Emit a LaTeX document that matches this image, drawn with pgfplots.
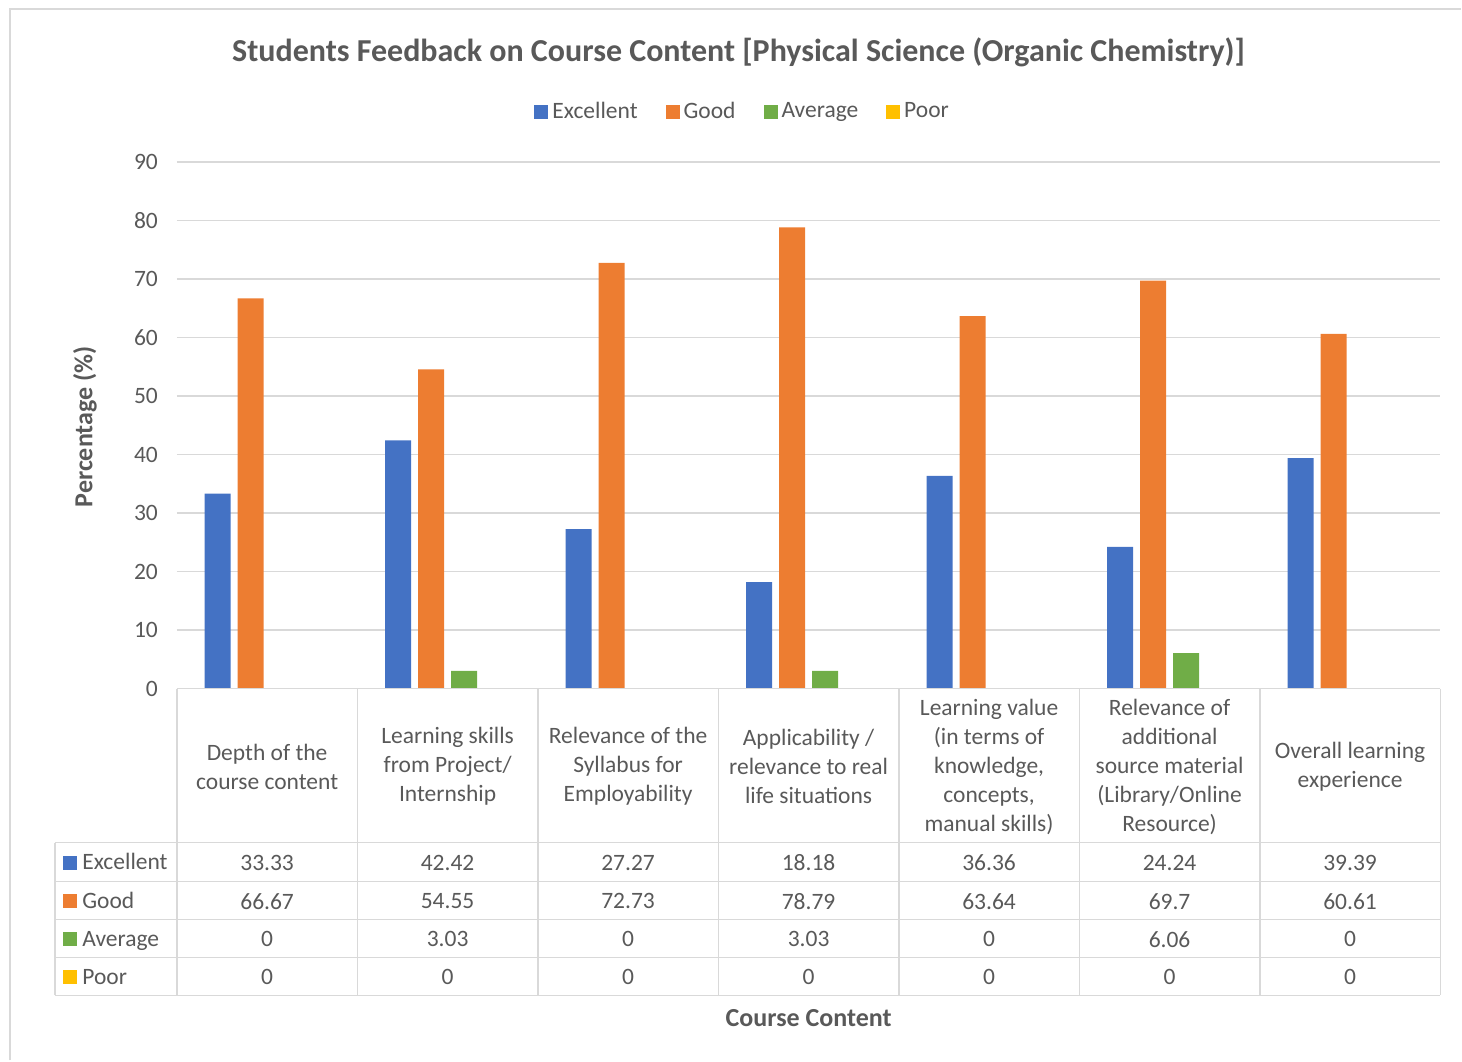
\documentclass[border=0pt]{standalone}
\usepackage{fontspec}
\setmainfont{Carlito}
\usepackage{pgfplots}
\usepackage{pgfplotstable}
\pgfplotsset{compat=1.18}
\definecolor{exc}{HTML}{4472C4}
\definecolor{good}{HTML}{ED7D31}
\definecolor{avg}{HTML}{70AD47}
\definecolor{poor}{HTML}{FFC000}
\definecolor{txt}{HTML}{595959}
\definecolor{gridc}{HTML}{D9D9D9}

% feedback percentages, one row per course-content item
\pgfplotstableread{
x exc good avg poor
0 33.33 66.67 0 0
1 42.42 54.55 3.03 0
2 27.27 72.73 0 0
3 18.18 78.79 3.03 0
4 36.36 63.64 0 0
5 24.24 69.7 6.06 0
6 39.39 60.61 0 0
}\feedback

\newcommand{\nfont}{\fontsize{11.75}{14.5}\selectfont}

\begin{document}
\begin{tikzpicture}
\begin{axis}[
  scale only axis,
  width=632pt, height=263.5pt,
  xmin=-0.5, xmax=6.5, ymin=0, ymax=90,
  ytick={0,10,...,90},
  xtick={0,...,6},
  xticklabels={
    {Depth of the\\course content},
    {Learning skills\\from Project/\\Internship},
    {Relevance of the\\Syllabus for\\Employability},
    {Applicability /\\relevance to real\\life situations},
    {Learning value\\(in terms of\\knowledge,\\concepts,\\manual skills)},
    {Relevance of\\additional\\source material\\(Library/Online\\Resource)},
    {Overall learning\\experience}},
  clip=false,
  axis line style={draw=none},
  major tick length=0pt,
  ymajorgrids,
  grid style={gridc, line width=0.75pt},
  tick label style={font=\nfont, text=txt},
  /pgf/number format/assume math mode=true,
  yticklabel style={xshift=-6pt},
  xticklabel style={align=center, anchor=center, yshift=-39pt},
  title={Students Feedback on Course Content [Physical Science (Organic Chemistry)]},
  title style={at={(0.4446,1.186)}, anchor=center,
    font=\bfseries\fontsize{16}{19}\selectfont, text=txt},
  ylabel={Percentage (\%)},
  ylabel style={at={(-0.0728,0.497)}, anchor=center,
    font=\bfseries\fontsize{13}{16}\selectfont, text=txt},
  xlabel={Course Content},
  xlabel style={at={(0.5,-0.626)}, anchor=center,
    font=\bfseries\fontsize{13}{16}\selectfont, text=txt},
  legend style={at={(0.4486,1.095)}, anchor=center, legend columns=4,
    draw=none, font=\nfont, text=txt,
    /tikz/every even column/.append style={column sep=12pt}},
  legend image code/.code={\fill[#1] (0pt,-3.5pt) rectangle (7pt,3.5pt);},
]
% bars
\addplot[ybar, bar width=13pt, bar shift=-24.75pt, fill=exc, draw=none]
  table[x=x, y=exc] {\feedback};
\addplot[ybar, bar width=13pt, bar shift=-8.25pt, fill=good, draw=none]
  table[x=x, y=good] {\feedback};
\addplot[ybar, bar width=13pt, bar shift=8.25pt, fill=avg, draw=none]
  table[x=x, y=avg] {\feedback};
\addplot[ybar, bar width=13pt, bar shift=24.75pt, fill=poor, draw=none]
  table[x=x, y=poor] {\feedback};
\legend{Excellent,Good,Average,Poor}

% data table values
\pgfplotsset{tabrow/.style={forget plot, draw=none, mark=none,
  nodes near coords, point meta=explicit symbolic,
  every node near coord/.append style={anchor=center, font=\nfont, text=txt}}}
\addplot[tabrow] table[x=x, y expr=-29.75, meta=exc] {\feedback};
\addplot[tabrow] table[x=x, y expr=-36.32, meta=good] {\feedback};
\addplot[tabrow] table[x=x, y expr=-42.81, meta=avg] {\feedback};
\addplot[tabrow] table[x=x, y expr=-49.30, meta=poor] {\feedback};

% table grid
\draw[gridc, line width=0.75pt]
  (axis cs:-0.5,0) -- (axis cs:6.5,0)
  (axis cs:-1.1757,-26.30) -- (axis cs:6.5,-26.30)
  (axis cs:-1.1757,-32.96) -- (axis cs:6.5,-32.96)
  (axis cs:-1.1757,-39.45) -- (axis cs:6.5,-39.45)
  (axis cs:-1.1757,-45.94) -- (axis cs:6.5,-45.94)
  (axis cs:-1.1757,-52.42) -- (axis cs:6.5,-52.42)
  (axis cs:-1.1757,-26.30) -- (axis cs:-1.1757,-52.42)
  (axis cs:-0.5,0) -- (axis cs:-0.5,-52.42)
  (axis cs:0.5,0) -- (axis cs:0.5,-52.42)
  (axis cs:1.5,0) -- (axis cs:1.5,-52.42)
  (axis cs:2.5,0) -- (axis cs:2.5,-52.42)
  (axis cs:3.5,0) -- (axis cs:3.5,-52.42)
  (axis cs:4.5,0) -- (axis cs:4.5,-52.42)
  (axis cs:5.5,0) -- (axis cs:5.5,-52.42)
  (axis cs:6.5,0) -- (axis cs:6.5,-52.42);

% row keys
\node[anchor=base west, inner sep=0, font=\nfont, text=txt] at (axis cs:-1.131,-30.95)
  {\textcolor{exc}{\rule{7pt}{7pt}}\hspace{2.5pt}Excellent};
\node[anchor=base west, inner sep=0, font=\nfont, text=txt] at (axis cs:-1.131,-37.52)
  {\textcolor{good}{\rule{7pt}{7pt}}\hspace{2.5pt}Good};
\node[anchor=base west, inner sep=0, font=\nfont, text=txt] at (axis cs:-1.131,-44.01)
  {\textcolor{avg}{\rule{7pt}{7pt}}\hspace{2.5pt}Average};
\node[anchor=base west, inner sep=0, font=\nfont, text=txt] at (axis cs:-1.131,-50.50)
  {\textcolor{poor}{\rule{7pt}{7pt}}\hspace{2.5pt}Poor};

% chart area border and page size
\draw[gridc, line width=0.75pt] (axis cs:-1.425,-63.52) -- (axis cs:-1.425,116.12)
  -- (axis cs:6.616,116.12);
\path (axis cs:-1.48,-63.52) rectangle (axis cs:6.616,117.66);
\end{axis}
\end{tikzpicture}
\end{document}
